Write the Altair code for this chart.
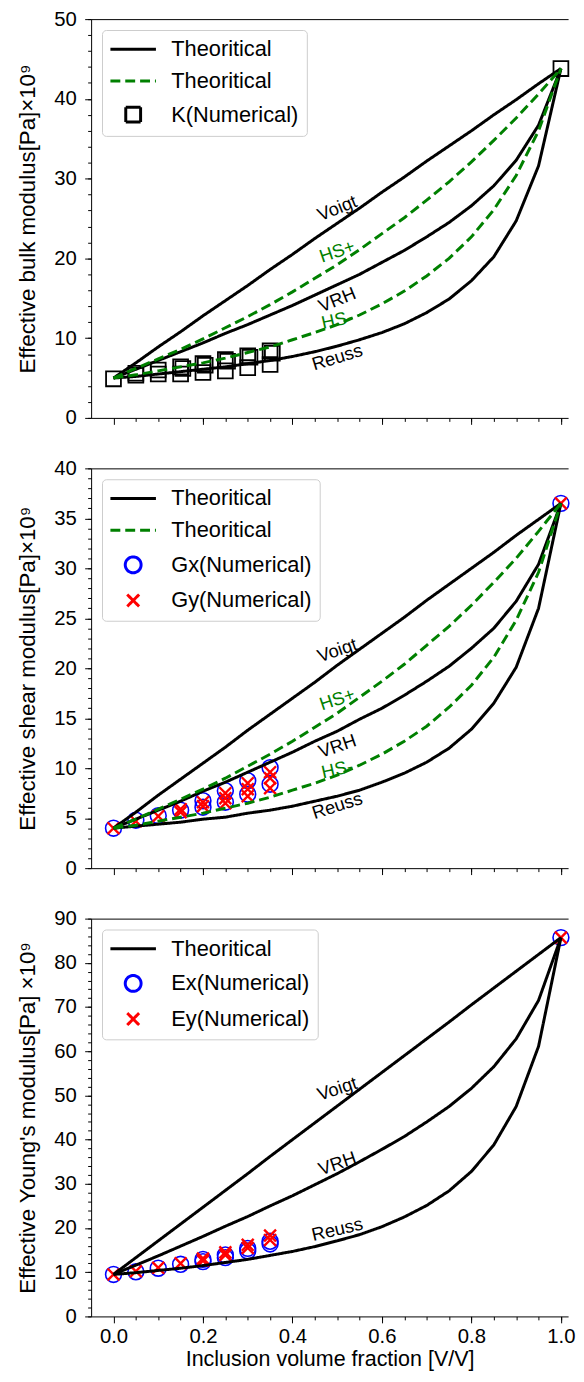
import altair as alt
import pandas as pd

# ---------------- data ----------------
frac = [0.0, 0.05, 0.1, 0.15, 0.2, 0.25, 0.3, 0.35, 0.4, 0.45, 0.5,
        0.55, 0.6, 0.65, 0.7, 0.75, 0.8, 0.85, 0.9, 0.95, 1.0]

# Bulk modulus K
K_voigt = [5.0, 6.9, 8.9, 10.8, 12.8, 14.7, 16.6, 18.6, 20.5, 22.5, 24.4,
           26.3, 28.3, 30.2, 32.2, 34.1, 36.0, 38.0, 39.9, 41.9, 43.8]
K_vrh = [5.0, 6.1, 7.2, 8.3, 9.4, 10.6, 11.7, 12.9, 14.1, 15.4, 16.7,
         18.0, 19.5, 21.0, 22.7, 24.5, 26.6, 29.1, 32.3, 36.7, 43.8]
K_reuss = [5.0, 5.2, 5.5, 5.8, 6.1, 6.4, 6.8, 7.2, 7.7, 8.3, 9.0,
           9.8, 10.7, 11.8, 13.2, 14.9, 17.2, 20.2, 24.7, 31.6, 43.8]
K_hsp = [5.0, 6.2, 7.4, 8.6, 9.9, 11.3, 12.7, 14.2, 15.8, 17.5, 19.2,
         21.1, 23.1, 25.1, 27.3, 29.6, 32.1, 34.8, 37.6, 40.6, 43.8]
K_hsm = [5.0, 5.4, 5.9, 6.4, 6.9, 7.5, 8.2, 8.9, 9.8, 10.7, 11.7,
         12.9, 14.3, 15.9, 17.8, 20.0, 22.7, 26.1, 30.4, 36.0, 43.8]
K_num_f = [0.0, 0.05, 0.05, 0.1, 0.1, 0.15, 0.155, 0.15, 0.2, 0.205, 0.2,
           0.25, 0.255, 0.25, 0.3, 0.305, 0.3, 0.35, 0.355, 0.35, 1.0]
K_num_v = [4.9, 5.6, 5.35, 6.0, 5.5, 6.4, 6.2, 5.5, 6.8, 6.6, 5.7,
           7.3, 7.1, 5.9, 7.8, 7.6, 6.3, 8.4, 8.1, 6.7, 43.8]

# Shear modulus G
G_voigt = [4.0, 5.6, 7.3, 8.9, 10.5, 12.1, 13.8, 15.4, 17.0, 18.6, 20.3,
           21.9, 23.5, 25.1, 26.8, 28.4, 30.0, 31.6, 33.3, 34.9, 36.5]
G_vrh = [4.0, 4.9, 5.8, 6.7, 7.7, 8.6, 9.6, 10.6, 11.6, 12.7, 13.7,
         14.9, 16.0, 17.3, 18.7, 20.2, 22.0, 24.0, 26.7, 30.4, 36.5]
G_reuss = [4.0, 4.2, 4.4, 4.6, 4.9, 5.1, 5.5, 5.8, 6.2, 6.7, 7.2,
           7.8, 8.6, 9.5, 10.6, 12.0, 13.9, 16.5, 20.1, 26.0, 36.5]
G_hsp = [4.0, 4.9, 5.9, 6.9, 7.9, 9.0, 10.2, 11.4, 12.7, 14.1, 15.5,
         17.1, 18.7, 20.4, 22.3, 24.2, 26.3, 28.6, 31.0, 33.7, 36.5]
G_hsm = [4.0, 4.3, 4.7, 5.1, 5.5, 6.0, 6.5, 7.1, 7.8, 8.5, 9.3,
         10.3, 11.4, 12.7, 14.2, 16.1, 18.3, 21.1, 24.8, 29.6, 36.5]
Gx_f = [0.0, 0.05, 0.1, 0.15, 0.2, 0.2, 0.25, 0.25, 0.3, 0.3, 0.35, 0.35, 1.0]
Gx_v = [4.0, 4.8, 5.25, 5.8, 6.75, 6.1, 7.75, 6.6, 8.75, 7.4, 10.05, 8.4, 36.5]
Gy_f = [0.0, 0.05, 0.1, 0.15, 0.15, 0.2, 0.2, 0.25, 0.25, 0.25,
        0.3, 0.3, 0.3, 0.35, 0.35, 0.35, 1.0]
Gy_v = [4.0, 4.7, 5.2, 5.9, 5.6, 6.6, 6.2, 7.5, 7.0, 6.5,
        8.5, 7.9, 7.2, 9.6, 9.0, 8.0, 36.5]

# Young's modulus E
E_voigt = [9.5, 13.3, 17.1, 20.9, 24.7, 28.5, 32.3, 36.2, 40.0, 43.8, 47.6,
           51.4, 55.2, 59.0, 62.8, 66.6, 70.5, 74.3, 78.1, 81.9, 85.7]
E_vrh = [9.5, 11.6, 13.7, 15.9, 18.1, 20.4, 22.6, 25.0, 27.3, 29.8, 32.3,
         35.0, 37.8, 40.7, 44.0, 47.5, 51.6, 56.5, 62.8, 71.5, 85.7]
E_reuss = [9.5, 9.9, 10.4, 10.9, 11.5, 12.2, 12.9, 13.8, 14.7, 15.8, 17.1,
           18.5, 20.3, 22.5, 25.1, 28.4, 32.8, 38.8, 47.5, 61.1, 85.7]
Ex_f = [0.0, 0.05, 0.1, 0.15, 0.2, 0.2, 0.25, 0.25, 0.3, 0.3, 0.35, 0.35, 1.0]
Ex_v = [9.5, 10.1, 10.9, 11.8, 12.4, 12.9, 13.3, 13.9, 14.8, 15.4, 16.4, 17.0, 85.7]
Ey_f = [0.0, 0.05, 0.1, 0.15, 0.2, 0.2, 0.25, 0.25, 0.3, 0.3, 0.35, 0.35, 1.0]
Ey_v = [9.5, 10.2, 11.0, 12.0, 12.6, 13.1, 13.9, 14.5, 15.5, 16.2, 17.3, 18.3, 85.7]

# curve annotations
lab1 = ["Voigt", "HS+", "VRH", "HS-", "Reuss"]
lab1_y = [26.3, 20.9, 14.8, 12.3, 7.6]
lab1_ang = [338, 341, 338, 347.5, 343]
lab2 = ["Voigt", "HS+", "VRH", "HS-", "Reuss"]
lab2_y = [21.8, 16.9, 12.2, 9.9, 6.25]
lab2_ang = [341, 341.5, 341, 347.5, 342]
lab3 = ["Voigt", "VRH", "Reuss"]
lab3_y = [51.5, 34.6, 19.7]
lab3_ang = [342, 341, 347]
lab_x = 0.5

x_major = [0.0, 0.2, 0.4, 0.6, 0.8, 1.0]
x_minor = [round(0.05 * i, 2) for i in range(1, 21)]

# ---------------- styling ----------------
FONT = "Liberation Sans"
SYM = 400
LINE = "M-2.3,0L2.3,0"
SQUARE = "M-0.75,-0.75L0.75,-0.75L0.75,0.75L-0.75,0.75Z"
CIRCLE = "M0,-0.8A0.8,0.8,0,1,1,0,0.8A0.8,0.8,0,1,1,0,-0.8Z"
XMARK = "M-0.6,-0.6L0.6,0.6M-0.6,0.6L0.6,-0.6"
BLACK, GREEN, BLUE, RED = "#000000", "#008000", "#0000ff", "#ff0000"
W = 482
X_DOMAIN = [-0.05, 1.016]


def curves_frame(curves):
    rows = []
    for name, grp, vals in curves:
        for f, v in zip(frac, vals):
            rows.append({"f": f, "v": v, "curve": name, "grp": grp})
    return pd.DataFrame(rows)


def legend():
    return alt.Legend(
        title=None, orient="top-left", offset=11, padding=8, cornerRadius=4,
        fillColor="white", strokeColor="#cccccc",
        labelFont=FONT, labelFontSize=22, labelColor="black", labelLimit=400,
        labelOffset=27, symbolSize=SYM, symbolStrokeWidth=3, symbolOffset=12,
        rowPadding=9,
        labelExpr="datum.label == 'T1' || datum.label == 'T2' ? 'Theoritical' : datum.label",
    )


def panel(curves, pts, labels, ydom, ymaj, ymin, ytitle, dom, colors, dashes, shapes,
          height, bottom):
    xs = alt.Scale(domain=X_DOMAIN, nice=False, zero=False)
    ys = alt.Scale(domain=ydom, nice=False, zero=False)
    cs = alt.Scale(domain=dom, range=colors)
    ds = alt.Scale(domain=dom, range=dashes)
    ss = alt.Scale(domain=dom, range=shapes)

    if bottom:
        ax_major = alt.Axis(orient="bottom", values=x_major, format=".1f", tickSize=6.5,
                            labelPadding=4, title="Inclusion volume fraction [V/V]",
                            titlePadding=2, titleFontSize=21.7, grid=False,
                            labelFlush=False)
    else:
        ax_major = alt.Axis(orient="bottom", values=x_major, labels=False, tickSize=6.5,
                            title=None, grid=False)
    ax_minor = alt.Axis(orient="bottom", values=x_minor, labels=False, domain=False,
                        tickSize=3.5, title=None, grid=False)
    ax_top = alt.Axis(orient="top", labels=False, ticks=False, domain=True, title=None,
                      grid=False)
    ay_major = alt.Axis(orient="left", values=ymaj, format="d", tickSize=6.5,
                        labelPadding=8.5, title=ytitle, titlePadding=14, grid=False)
    ay_minor = alt.Axis(orient="left", values=ymin, labels=False, domain=False,
                        tickSize=3.5, title=None, grid=False)

    layers = []
    for i, (df, sw) in enumerate(pts):
        layers.append(
            alt.Chart(df).mark_point(filled=False, size=SYM, strokeWidth=sw, opacity=1).encode(
                x=alt.X("f:Q", scale=xs, axis=ax_minor if i == 0 else None),
                y=alt.Y("v:Q", scale=ys, axis=ay_minor if i == 0 else None),
                color=alt.Color("grp:N", scale=cs, legend=legend()),
                shape=alt.Shape("grp:N", scale=ss, legend=legend()),
            )
        )
    layers.append(
        alt.Chart(curves_frame(curves)).mark_line(strokeWidth=3).encode(
            x=alt.X("f:Q", scale=xs, axis=ax_major),
            y=alt.Y("v:Q", scale=ys, axis=ay_major),
            color=alt.Color("grp:N", scale=cs, legend=legend()),
            strokeDash=alt.StrokeDash("grp:N", scale=ds, legend=legend()),
            detail="curve:N",
        )
    )
    names, yv, ang = labels
    ldf = pd.DataFrame({"label": names, "f": [lab_x] * len(names), "v": yv, "ang": ang})
    ldf["green"] = ldf["label"].str.startswith("HS")
    for j, (is_green, col) in enumerate([(False, BLACK), (True, GREEN)]):
        sub = ldf[ldf["green"] == is_green]
        if len(sub) == 0:
            continue
        layers.append(
            alt.Chart(sub).mark_text(font=FONT, fontSize=18.5, color=col, align="center",
                                     baseline="middle").encode(
                x=alt.X("f:Q", scale=xs, axis=ax_top if j == 0 else None),
                y=alt.Y("v:Q", scale=ys, axis=None),
                text="label:N",
                angle=alt.Angle("ang:Q", scale=None),
            )
        )
    return alt.layer(*layers).resolve_axis(x="independent", y="independent").properties(
        width=W, height=height)


# ---- panel 1: bulk modulus
p1 = panel(
    curves=[("Voigt", "T1", K_voigt), ("VRH", "T1", K_vrh), ("Reuss", "T1", K_reuss),
            ("HS+", "T2", K_hsp), ("HS-", "T2", K_hsm)],
    pts=[(pd.DataFrame({"f": K_num_f, "v": K_num_v, "grp": "K(Numerical)"}), 1.8)],
    labels=(lab1, lab1_y, lab1_ang),
    ydom=[0, 50], ymaj=list(range(0, 51, 10)), ymin=list(range(0, 51, 2)),
    ytitle="Effective bulk modulus[Pa]×10⁹",
    dom=["T1", "T2", "K(Numerical)"], colors=[BLACK, GREEN, BLACK],
    dashes=[[1, 0], [10, 5], [1, 0]], shapes=[LINE, LINE, SQUARE],
    height=403, bottom=False,
)

# ---- panel 2: shear modulus
p2 = panel(
    curves=[("Voigt", "T1", G_voigt), ("VRH", "T1", G_vrh), ("Reuss", "T1", G_reuss),
            ("HS+", "T2", G_hsp), ("HS-", "T2", G_hsm)],
    pts=[(pd.DataFrame({"f": Gx_f, "v": Gx_v, "grp": "Gx(Numerical)"}), 1.6),
         (pd.DataFrame({"f": Gy_f, "v": Gy_v, "grp": "Gy(Numerical)"}), 2.4)],
    labels=(lab2, lab2_y, lab2_ang),
    ydom=[0, 40], ymaj=list(range(0, 41, 5)), ymin=list(range(0, 41, 1)),
    ytitle="Effective shear modulus[Pa]×10⁹",
    dom=["T1", "T2", "Gx(Numerical)", "Gy(Numerical)"], colors=[BLACK, GREEN, BLUE, RED],
    dashes=[[1, 0], [10, 5], [1, 0], [1, 0]], shapes=[LINE, LINE, CIRCLE, XMARK],
    height=404, bottom=False,
)

# ---- panel 3: Young's modulus
p3 = panel(
    curves=[("Voigt", "T1", E_voigt), ("VRH", "T1", E_vrh), ("Reuss", "T1", E_reuss)],
    pts=[(pd.DataFrame({"f": Ex_f, "v": Ex_v, "grp": "Ex(Numerical)"}), 1.6),
         (pd.DataFrame({"f": Ey_f, "v": Ey_v, "grp": "Ey(Numerical)"}), 2.4)],
    labels=(lab3, lab3_y, lab3_ang),
    ydom=[0, 90], ymaj=list(range(0, 91, 10)), ymin=list(range(0, 91, 2)),
    ytitle="Effective Young's modulus[Pa] ×10⁹",
    dom=["T1", "Ex(Numerical)", "Ey(Numerical)"], colors=[BLACK, BLUE, RED],
    dashes=[[1, 0], [1, 0], [1, 0]], shapes=[LINE, CIRCLE, XMARK],
    height=402, bottom=True,
)

chart = alt.vconcat(p1, p2, p3, spacing=30).resolve_scale(
    color="independent", shape="independent", strokeDash="independent"
).properties(
    padding={"left": 9, "top": -6, "right": 0, "bottom": 0}
).configure_view(stroke=None).configure_axis(
    labelFont=FONT, labelFontSize=20.5, labelColor="black",
    titleFont=FONT, titleFontSize=22.5, titleFontWeight="normal", titleColor="black",
    domainColor="black", domainWidth=1, tickColor="black", tickWidth=1,
)

chart.save("out.html", embed_options={"renderer": "svg", "actions": False})
